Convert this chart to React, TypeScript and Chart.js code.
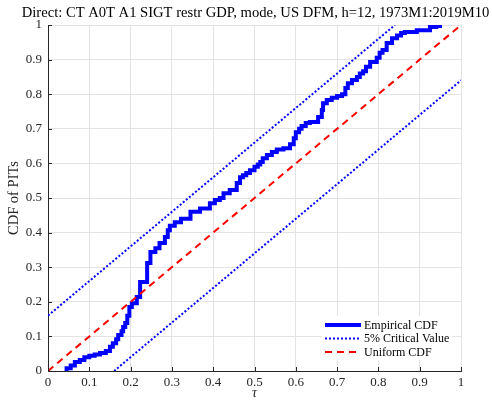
import React, { useEffect, useRef } from "react";
import { Chart, registerables } from "chart.js";

Chart.register(...registerables);

const TITLE = "Direct: CT A0T A1 SIGT restr GDP, mode, US DFM, h=12, 1973M1:2019M10";
const X_LABEL = "τ";
const Y_LABEL = "CDF of PITs";
const LEGEND_LABELS = ["Empirical CDF", "5% Critical Value", "Uniform CDF"];

const X_TICKS = [0, 0.1, 0.2, 0.3, 0.4, 0.5, 0.6, 0.7, 0.8, 0.9, 1];
const Y_TICKS = [0, 0.1, 0.2, 0.3, 0.4, 0.5, 0.6, 0.7, 0.8, 0.9, 1];
const X_TICK_LABELS = ["0", "0.1", "0.2", "0.3", "0.4", "0.5", "0.6", "0.7", "0.8", "0.9", "1"];
const Y_TICK_LABELS = ["0", "0.1", "0.2", "0.3", "0.4", "0.5", "0.6", "0.7", "0.8", "0.9", "1"];

// Empirical CDF of PITs (sorted PIT values and CDF level after each jump)
const PIT_X = [
  0.045, 0.055, 0.065, 0.077, 0.088, 0.1, 0.113, 0.126, 0.14, 0.15,
  0.157, 0.165, 0.17, 0.178, 0.182, 0.187, 0.192, 0.197, 0.203, 0.215,
  0.223, 0.24, 0.248, 0.26, 0.27, 0.283, 0.29, 0.295, 0.307, 0.322,
  0.345, 0.368, 0.392, 0.404, 0.416, 0.425, 0.44, 0.457, 0.465, 0.472,
  0.48, 0.489, 0.5, 0.508, 0.514, 0.52, 0.53, 0.542, 0.554, 0.57,
  0.586, 0.595, 0.6, 0.608, 0.614, 0.624, 0.634, 0.654, 0.663, 0.666,
  0.675, 0.687, 0.7, 0.712, 0.72, 0.726, 0.736, 0.748, 0.755, 0.763,
  0.77, 0.78, 0.796, 0.803, 0.81, 0.82, 0.833, 0.845, 0.855, 0.864,
  0.893, 0.925, 0.94, 0.954,
];
const PIT_CDF = [
  0.0, 0.008, 0.016, 0.026, 0.032, 0.04, 0.044, 0.048, 0.052, 0.058,
  0.07, 0.08, 0.092, 0.104, 0.115, 0.127, 0.139, 0.16, 0.185, 0.196,
  0.214, 0.257, 0.312, 0.344, 0.355, 0.37, 0.387, 0.407, 0.42, 0.43,
  0.44, 0.46, 0.47, 0.485, 0.494, 0.5, 0.514, 0.523, 0.543, 0.56,
  0.566, 0.572, 0.58, 0.59, 0.597, 0.604, 0.615, 0.624, 0.633, 0.64,
  0.644, 0.655, 0.673, 0.69, 0.7, 0.708, 0.717, 0.72, 0.734, 0.754,
  0.774, 0.783, 0.79, 0.795, 0.8, 0.818, 0.832, 0.841, 0.85, 0.86,
  0.866, 0.879, 0.893, 0.905, 0.92, 0.928, 0.948, 0.962, 0.97, 0.977,
  0.98, 0.985, 0.994, 0.997,
];

// 5% critical band lines and uniform CDF
const UPPER_X = [0, 0.84];
const UPPER_Y = [0.16, 1];
const LOWER_X = [0.16, 1];
const LOWER_Y = [0, 0.84];
const UNIFORM_X = [0, 1];
const UNIFORM_Y = [0, 1];

const SERIF = "'Liberation Serif', 'DejaVu Serif', serif";
const AXIS_COLOR = "#262626";

const axesTitle = {
  id: "axesTitle",
  afterDraw(chart: any) {
    const { ctx, chartArea } = chart;
    ctx.save();
    ctx.font = `14.6px ${SERIF}`;
    ctx.fillStyle = "#000000";
    ctx.textAlign = "center";
    ctx.textBaseline = "middle";
    ctx.fillText(TITLE, (chartArea.left + chartArea.right) / 2 + 1, 13);
    ctx.restore();
  },
};

const inwardTicks = {
  id: "inwardTicks",
  afterDraw(chart: any) {
    const { ctx, chartArea, scales } = chart;
    ctx.save();
    ctx.strokeStyle = AXIS_COLOR;
    ctx.lineWidth = 1;
    ctx.beginPath();
    X_TICKS.forEach((v) => {
      const px = Math.round(scales.x.getPixelForValue(v)) + 0.5;
      ctx.moveTo(px, chartArea.bottom);
      ctx.lineTo(px, chartArea.bottom - 4);
    });
    Y_TICKS.forEach((v) => {
      const py = Math.round(scales.y.getPixelForValue(v)) + 0.5;
      ctx.moveTo(chartArea.left, py);
      ctx.lineTo(chartArea.left + 4, py);
    });
    ctx.stroke();
    ctx.restore();
  },
};

const boxLegend = {
  id: "boxLegend",
  afterDraw(chart: any) {
    const { ctx, chartArea } = chart;
    const right = chartArea.right - 9;
    const bottom = chartArea.bottom - 11;
    const w = 130;
    const h = 44;
    const left = right - w;
    const top = bottom - h;
    ctx.save();
    ctx.fillStyle = "#ffffff";
    ctx.fillRect(left, top, w, h);
    const styles = [
      { color: "#0000ff", width: 4, dash: [] as number[] },
      { color: "#0000ff", width: 2, dash: [2, 2] },
      { color: "#ff0000", width: 2, dash: [7, 5] },
    ];
    ctx.font = `12px ${SERIF}`;
    ctx.textBaseline = "middle";
    ctx.textAlign = "left";
    LEGEND_LABELS.forEach((label, i) => {
      const y = top + 9 + i * 13.5;
      const s = styles[i];
      ctx.beginPath();
      ctx.strokeStyle = s.color;
      ctx.lineWidth = s.width;
      ctx.setLineDash(s.dash);
      ctx.moveTo(left + 3, y);
      ctx.lineTo(left + 39, y);
      ctx.stroke();
      ctx.setLineDash([]);
      ctx.fillStyle = "#000000";
      ctx.fillText(label, left + 42, y + 0.5);
    });
    ctx.restore();
  },
};

function toPoints(xs: number[], ys: number[]) {
  return xs.map((x, i) => ({ x, y: ys[i] }));
}

export default function App() {
  const canvasRef = useRef<HTMLCanvasElement | null>(null);

  useEffect(() => {
    if (!canvasRef.current) return;
    const chart = new Chart(canvasRef.current, {
      type: "line",
      data: {
        datasets: [
          {
            label: LEGEND_LABELS[2],
            data: toPoints(UNIFORM_X, UNIFORM_Y),
            borderColor: "#ff0000",
            borderWidth: 2,
            borderDash: [7, 5],
            pointRadius: 0,
            fill: false,
          },
          {
            label: LEGEND_LABELS[1],
            data: toPoints(UPPER_X, UPPER_Y),
            borderColor: "#0000ff",
            borderWidth: 2,
            borderDash: [2, 2],
            pointRadius: 0,
            fill: false,
          },
          {
            label: LEGEND_LABELS[1] + " (lower)",
            data: toPoints(LOWER_X, LOWER_Y),
            borderColor: "#0000ff",
            borderWidth: 2,
            borderDash: [2, 2],
            pointRadius: 0,
            fill: false,
          },
          {
            label: LEGEND_LABELS[0],
            data: toPoints(PIT_X, PIT_CDF),
            borderColor: "#0000ff",
            borderWidth: 4,
            stepped: "after",
            pointRadius: 0,
            fill: false,
          },
        ],
      },
      options: {
        animation: false,
        responsive: false,
        layout: { padding: { left: 0, right: 31, top: 25, bottom: 0 } },
        plugins: {
          legend: { display: false },
          tooltip: { enabled: false },
          title: { display: false },
        },
        scales: {
          x: {
            type: "linear",
            min: 0,
            max: 1,
            afterFit: (s: any) => {
              s.height = 31;
            },
            afterBuildTicks: (s: any) => {
              s.ticks = X_TICKS.map((v) => ({ value: v }));
            },
            ticks: {
              color: AXIS_COLOR,
              font: { family: SERIF, size: 13 },
              padding: 4,
              maxRotation: 0,
              callback: (v: any) => X_TICK_LABELS[X_TICKS.indexOf(Math.round(Number(v) * 10) / 10)] ?? "",
            },
            grid: { color: "#e3e3e3", lineWidth: 1, drawTicks: false },
            border: { display: true, color: AXIS_COLOR, width: 1 },
            title: {
              display: true,
              text: X_LABEL,
              color: AXIS_COLOR,
              font: { family: SERIF, size: 14, style: "italic" },
              padding: { top: 0, bottom: 0 },
            },
          },
          y: {
            type: "linear",
            min: 0,
            max: 1,
            afterFit: (s: any) => {
              s.width = 48;
            },
            afterBuildTicks: (s: any) => {
              s.ticks = Y_TICKS.map((v) => ({ value: v }));
            },
            ticks: {
              color: AXIS_COLOR,
              font: { family: SERIF, size: 13 },
              padding: 6,
              callback: (v: any) => Y_TICK_LABELS[Y_TICKS.indexOf(Math.round(Number(v) * 10) / 10)] ?? "",
            },
            grid: { color: "#e3e3e3", lineWidth: 1, drawTicks: false },
            border: { display: true, color: AXIS_COLOR, width: 1 },
            title: {
              display: true,
              text: Y_LABEL,
              color: AXIS_COLOR,
              font: { family: SERIF, size: 14.5 },
              padding: { top: 5, bottom: 0 },
            },
          },
        },
      },
      plugins: [inwardTicks, boxLegend, axesTitle],
    } as any);
    return () => chart.destroy();
  }, []);

  return (
    <div style={{ position: "absolute", left: 0, top: 0, width: 492, height: 402, background: "#ffffff" }}>
      <canvas ref={canvasRef} width={492} height={402} style={{ display: "block" }} />
    </div>
  );
}
